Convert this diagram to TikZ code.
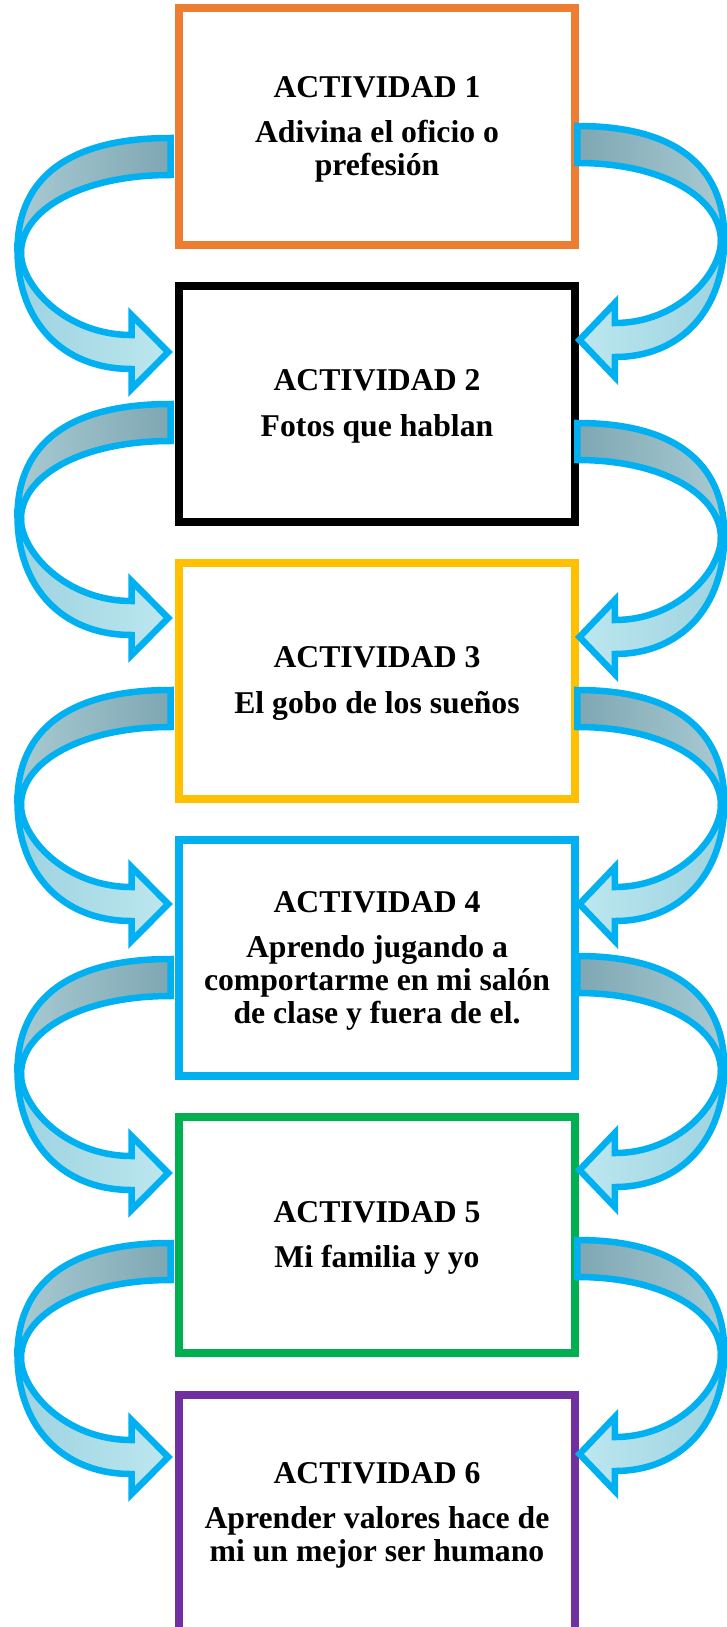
\documentclass[tikz,border=0pt]{standalone}
\usepackage{fontspec}
\setmainfont{Liberation Serif}
\definecolor{cOrange}{HTML}{ED7D31}
\definecolor{cGold}{HTML}{FFC000}
\definecolor{cBlue}{HTML}{00B0F0}
\definecolor{cGreen}{HTML}{00B050}
\definecolor{cPurple}{HTML}{7030A0}
\definecolor{rimC}{HTML}{00B0F0}
\definecolor{backDark}{HTML}{7EA7B3}
\definecolor{backLight}{HTML}{A8CAD2}
\definecolor{frontDark}{HTML}{9DD3E0}
\definecolor{frontLight}{HTML}{BCE7EF}
\tikzset{
  actbox/.style={draw, line width=8pt, minimum width=396pt, minimum height=236pt, inner sep=0pt, fill=white},
  acttext/.style={align=center, font=\fontsize{31.7pt}{33pt}\selectfont\bfseries, inner sep=0pt},
  rim/.style={draw=rimC, line width=6.5pt, line join=miter},
  backL/.style={left color=backLight, right color=backDark},
  frontL/.style={left color=frontDark, right color=frontLight},
  backR/.style={left color=backDark, right color=backLight},
  frontR/.style={left color=frontLight, right color=frontDark}
}
\newcommand{\ribbonshape}[2]{%
  \path[rim,#2] (-156,115) .. controls (-156,186) and (-111.5,234) .. (-42,234)
     -- (-42,254) -- (-5.2,217) -- (-42,180) -- (-42,200)
     .. controls (-108.5,200) and (-152.5,150) .. (-152.5,118) -- cycle;
  \path[rim,#1] (-3,3) .. controls (-103.5,3) and (-156,42) .. (-156,115)
     -- (-152.5,118) .. controls (-152.5,75) and (-92.5,40) .. (-3,40) -- cycle;
}
\begin{document}
\begin{tikzpicture}[x=1pt,y=-1pt]
\useasboundingbox (0,0) rectangle (727,1627);
\fill[white] (0,0) rectangle (727,1627);

% boxes
\node[actbox, draw=cOrange] (b1) at (377,126.5) {};
\node[actbox, draw=black]   (b2) at (377,403.7) {};
\node[actbox, draw=cGold]   (b3) at (377,680.9) {};
\node[actbox, draw=cBlue]   (b4) at (377,958.1) {};
\node[actbox, draw=cGreen]  (b5) at (377,1235.3) {};
\node[actbox, draw=cPurple] (b6) at (377,1512.5) {};

% texts
\node[acttext] (t1) at ([yshift=-2.7pt]b1.center) {ACTIVIDAD 1\\[12.5pt]Adivina el oficio o\\prefesión};
\node[acttext] (t2) at ([yshift=-2.7pt]b2.center) {ACTIVIDAD 2\\[12.5pt]Fotos que hablan};
\node[acttext] (t3) at ([yshift=-2.7pt]b3.center) {ACTIVIDAD 3\\[12.5pt]El gobo de los sueños};
\node[acttext] (t4) at ([yshift=-2.7pt]b4.center) {ACTIVIDAD 4\\[12.5pt]Aprendo jugando a\\comportarme en mi salón\\de clase y fuera de el.};
\node[acttext] (t5) at ([yshift=-2.7pt]b5.center) {ACTIVIDAD 5\\[12.5pt]Mi familia y yo};
\node[acttext] (t6) at ([yshift=-2.7pt]b6.center) {ACTIVIDAD 6\\[12.5pt]Aprender valores hace de\\mi un mejor ser humano};

% left curved arrows
\foreach \T in {135,401,687,956,1240}{
  \begin{scope}[shift={(173.5,\T)}]
    \ribbonshape{backL}{frontL}
  \end{scope}
}
% right curved arrows
\foreach \T in {123,420,687,953,1237}{
  \begin{scope}[shift={(574.5,\T)}, xscale=-0.96]
    \ribbonshape{backR}{frontR}
  \end{scope}
}
\end{tikzpicture}
\end{document}
